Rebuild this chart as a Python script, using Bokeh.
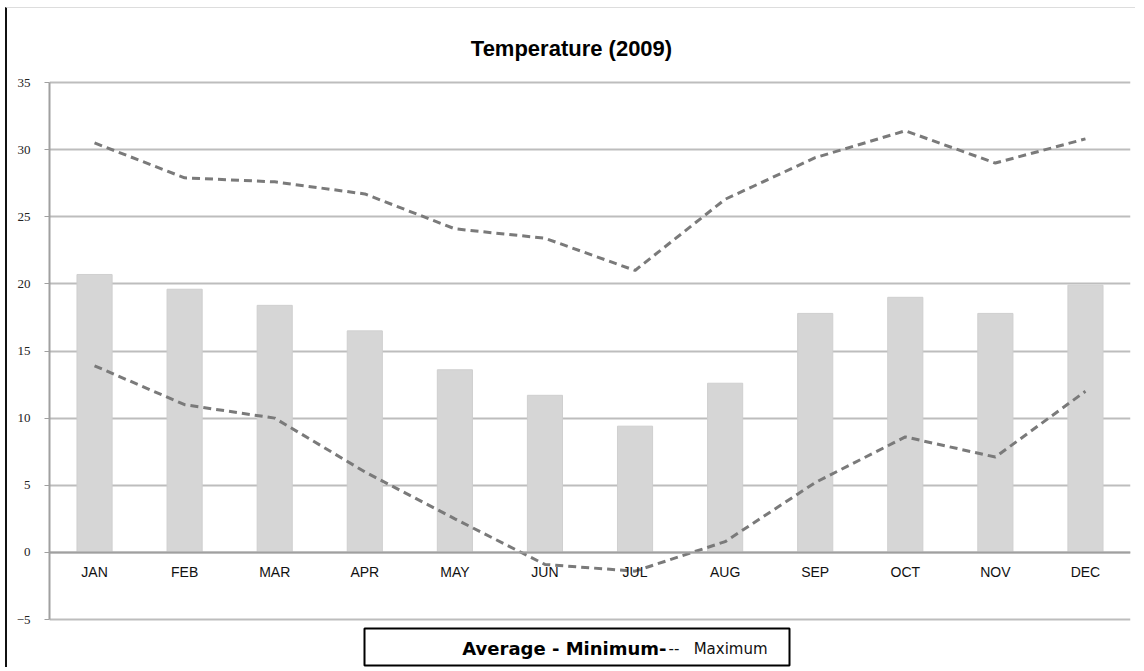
from bokeh.plotting import figure
from bokeh.models import FixedTicker, Label, BoxAnnotation
from bokeh.embed import file_html
from bokeh.resources import INLINE

months = ["JAN", "FEB", "MAR", "APR", "MAY", "JUN", "JUL", "AUG", "SEP", "OCT", "NOV", "DEC"]
average = [20.7, 19.6, 18.4, 16.5, 13.6, 11.7, 9.4, 12.6, 17.8, 19.0, 17.8, 19.9]
minimum = [13.9, 11.0, 10.0, 6.0, 2.5, -0.9, -1.4, 0.8, 5.2, 8.6, 7.1, 12.0]
maximum = [30.5, 27.9, 27.6, 26.7, 24.1, 23.4, 21.0, 26.3, 29.4, 31.4, 29.0, 30.8]
y_ticks = [-5, 0, 5, 10, 15, 20, 25, 30, 35]

# frame spans the whole canvas height so title/legend text can live inside it
px_per_unit = 537 / 40.0
y_lo = -5 - 49 / px_per_unit
y_hi = 35 + 74 / px_per_unit

p = figure(x_range=months, y_range=(y_lo, y_hi), width=1130, height=660,
           output_backend="svg", toolbar_location=None,
           min_border_left=42, min_border_right=7, min_border_top=0, min_border_bottom=0)
p.styles = {"border-left": "2px solid #111", "border-top": "1px solid #ddd",
            "margin-left": "5px", "margin-top": "7px"}
p.outline_line_color = None
p.background_fill_color = "white"

p.vbar(x=months, top=average, width=0.39, fill_color="#d6d6d6", line_color="#cfcfcf", line_width=1)
p.line(x=months, y=minimum, line_color="#7a7a7a", line_width=3, line_dash="8 5")
p.line(x=months, y=maximum, line_color="#7a7a7a", line_width=3, line_dash="8 5")

p.yaxis.ticker = FixedTicker(ticks=y_ticks)
p.yaxis.bounds = (-5, 35)
p.ygrid.ticker = FixedTicker(ticks=y_ticks)
p.ygrid.grid_line_color = "#bdbdbd"
p.ygrid.grid_line_width = 2
p.xgrid.grid_line_color = None
p.yaxis.axis_line_color = "#a0a0a0"
p.yaxis.axis_line_width = 2
p.yaxis.major_tick_line_color = "#a0a0a0"
p.yaxis.major_tick_out = 5
p.yaxis.major_tick_in = 0
p.yaxis.minor_tick_line_color = None
p.yaxis.major_label_standoff = 14
p.yaxis.major_label_text_font = "Liberation Serif"
p.yaxis.major_label_text_font_size = "13px"
p.yaxis.major_label_text_color = "#222"

p.xaxis.fixed_location = 0
p.xaxis.axis_line_color = "#a0a0a0"
p.xaxis.axis_line_width = 2
p.xaxis.major_tick_line_color = None
p.xaxis.minor_tick_line_color = None
p.xaxis.major_label_standoff = 6
p.xaxis.major_label_text_font = "Liberation Sans"
p.xaxis.major_label_text_font_size = "14px"
p.xaxis.major_label_text_color = "#111"

# screen units are measured from the frame's bottom-left corner
title = Label(x=522, y=620, x_units="screen", y_units="screen", text="Temperature (2009)",
              text_font="Liberation Sans", text_font_style="bold", text_font_size="22px",
              text_align="center", text_baseline="middle", text_color="#000")
p.add_layout(title)

box = BoxAnnotation(left=315, right=740, top=40, bottom=3,
                    left_units="screen", right_units="screen", top_units="screen", bottom_units="screen",
                    fill_color="white", fill_alpha=1, line_color="black", line_alpha=1,
                    line_width=2, level="underlay")
p.add_layout(box)
leg1 = Label(x=617, y=20, x_units="screen", y_units="screen", text="Average - Minimum-",
             text_font="DejaVu Sans", text_font_style="bold", text_font_size="18px",
             text_align="right", text_baseline="middle", text_color="#000")
leg2 = Label(x=619, y=20, x_units="screen", y_units="screen", text="--\u00a0\u00a0\u00a0Maximum",
             text_font="DejaVu Sans", text_font_size="15px",
             text_align="left", text_baseline="middle", text_color="#111")
p.add_layout(leg1)
p.add_layout(leg2)

open("out.html", "w").write(file_html(p, INLINE))
